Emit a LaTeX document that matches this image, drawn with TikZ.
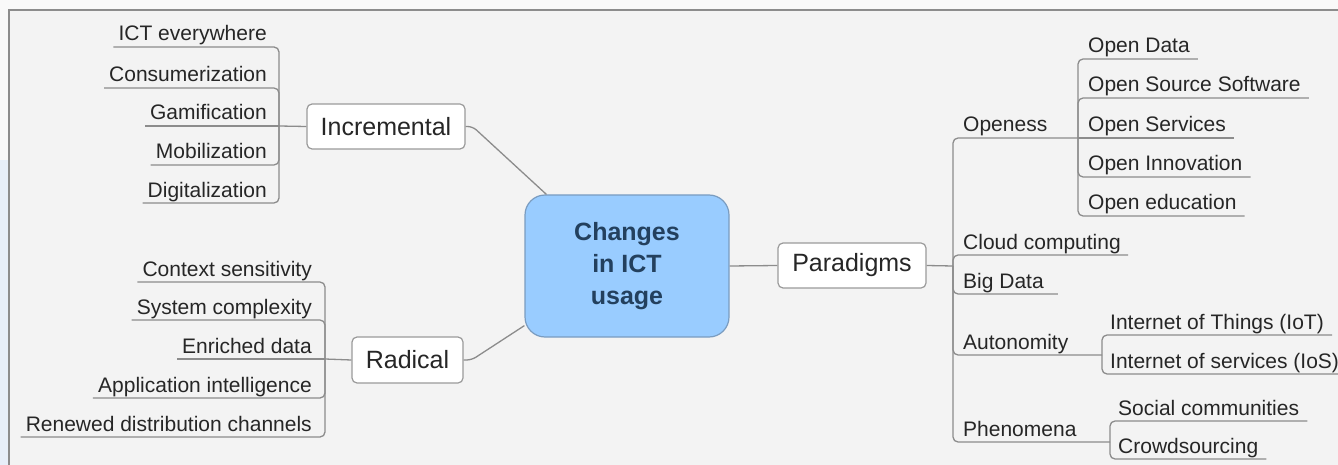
\documentclass[tikz,border=0pt]{standalone}
\usepackage{fontspec}
\setmainfont{Liberation Sans}
\usepackage{tikz}
\usetikzlibrary{positioning}
\definecolor{linegray}{HTML}{8C8C8C}
\definecolor{boxgray}{HTML}{9A9A9A}
\definecolor{centrefill}{HTML}{99CCFF}
\definecolor{centreline}{HTML}{7A9CC0}
\definecolor{centretext}{HTML}{23405E}
\definecolor{paper}{HTML}{F3F3F3}
\definecolor{outside}{HTML}{F9F9F9}
\definecolor{sidestrip}{HTML}{E7EEF8}
\tikzstyle{topicbox} = [draw=boxgray, fill=white, line width=1.2pt,
    rounded corners=5pt, inner sep=0pt, font=\fontsize{25}{30}\selectfont, text=black!85]
\tikzstyle{centrebox} = [draw=centreline, fill=centrefill, line width=1.2pt,
    rounded corners=20pt, minimum width=204pt, minimum height=142pt, align=center,
    font=\fontsize{25}{32}\selectfont\bfseries, text=centretext]
\tikzstyle{leafleft} = [anchor=base east, inner sep=0pt, font=\fontsize{21}{25}\selectfont, text=black!85]
\tikzstyle{leafright} = [leafleft, anchor=base west]
\tikzstyle{branch} = [draw=linegray, line width=1.3pt, rounded corners=5pt]

\begin{document}
\begin{tikzpicture}[x=1pt, y=-1pt]
    \useasboundingbox (0,0) rectangle (1338,465);
    % paper and frame
    \fill[outside] (0,0) rectangle (1338,465);
    \fill[paper] (9,10) rectangle (1338,465);
    \fill[sidestrip] (0,160) rectangle (8,465);
    \draw[line width=2pt, black!45] (9,465) -- (9,10) -- (1338,10);

    % main topics
    \node[centrebox] (centre) at (627,266) {Changes\\in ICT\\usage};
    \node[topicbox, minimum width=158pt, minimum height=45pt] (incremental) at (386,126.5) {Incremental};
    \node[topicbox, minimum width=111pt, minimum height=46pt] (radical) at (407.5,360) {Radical};
    \node[topicbox, minimum width=148pt, minimum height=45pt] (paradigms) at (852,265.5) {Paradigms};

    \coordinate (jInc) at (279,126);
    \coordinate (jRad) at (325,359);
    \coordinate (jPar) at (953,266);
    \coordinate (jOpen) at (1078,138);
    \coordinate (jAut) at (1102,355);
    \coordinate (jPhe) at (1110,442);

    % incremental leaves
    \node[leafleft] (ict) at (267,41) {ICT everywhere};
    \node[leafleft] (consum) at (267,82) {Consumerization};
    \node[leafleft] (gamif) at (267,120) {Gamification};
    \node[leafleft] (mobil) at (267,159) {Mobilization};
    \node[leafleft] (digit) at (267,197) {Digitalization};

    % radical leaves
    \node[leafleft] (context) at (312,276) {Context sensitivity};
    \node[leafleft] (system) at (312,314) {System complexity};
    \node[leafleft] (enriched) at (312,353) {Enriched data};
    \node[leafleft] (appint) at (312,392) {Application intelligence};
    \node[leafleft] (renewed) at (312,431) {Renewed distribution channels};

    % paradigms leaves
    \node[leafright] (openess) at (963,132) {Openess};
    \node[leafright] (cloud) at (963,249) {Cloud computing};
    \node[leafright] (bigdata) at (963,288) {Big Data};
    \node[leafright] (autonom) at (963,349) {Autonomity};
    \node[leafright] (phenom) at (963,436) {Phenomena};

    \node[leafright] (opendata) at (1088,53) {Open Data};
    \node[leafright] (opensource) at (1088,92) {Open Source Software};
    \node[leafright] (openserv) at (1088,132) {Open Services};
    \node[leafright] (openinno) at (1088,171) {Open Innovation};
    \node[leafright] (openedu) at (1088,210) {Open education};

    \node[leafright] (iot) at (1110,329) {Internet of Things (IoT)};
    \node[leafright] (ios) at (1110,368) {Internet of services (IoS)};

    \node[leafright] (social) at (1118,415) {Social communities};
    \node[leafright] (crowd) at (1118,453) {Crowdsourcing};

    % connectors to the centre
    \draw[branch] (incremental.east) -- ++(7,0) -- ([xshift=22pt]centre.north west);
    \draw[branch] (radical.east) -- ++(8,0) -- ([yshift=12pt]centre.south west);
    \draw[branch] (centre.east) -- (paradigms.west);
    \draw[branch] (paradigms.east) -- (jPar);
    \draw[branch] (incremental.west) -- (jInc);
    \draw[branch] (radical.west) -- (jRad);

    % incremental branches
    \draw[branch] (jInc) |- ([xshift=-5pt,yshift=-6pt]ict.base west);
    \draw[branch] (jInc) |- ([xshift=-5pt,yshift=-6pt]consum.base west);
    \draw[branch] (jInc) -- ([xshift=-5pt,yshift=-6pt]gamif.base west);
    \draw[branch] (jInc) |- ([xshift=-5pt,yshift=-6pt]mobil.base west);
    \draw[branch] (jInc) |- ([xshift=-5pt,yshift=-6pt]digit.base west);

    % radical branches
    \draw[branch] (jRad) |- ([xshift=-5pt,yshift=-6pt]context.base west);
    \draw[branch] (jRad) |- ([xshift=-5pt,yshift=-6pt]system.base west);
    \draw[branch] (jRad) -- ([xshift=-5pt,yshift=-6pt]enriched.base west);
    \draw[branch] (jRad) |- ([xshift=-5pt,yshift=-6pt]appint.base west);
    \draw[branch] (jRad) |- ([xshift=-5pt,yshift=-6pt]renewed.base west);

    % paradigms branches
    \draw[branch] (jPar) |- (jOpen);
    \draw[branch] (jPar) |- ([xshift=7pt,yshift=-6pt]cloud.base east);
    \draw[branch] (jPar) |- ([xshift=14pt,yshift=-6pt]bigdata.base east);
    \draw[branch] (jPar) |- (jAut);
    \draw[branch] (jPar) |- (jPhe);

    \draw[branch] (jOpen) |- ([xshift=8pt,yshift=-6pt]opendata.base east);
    \draw[branch] (jOpen) |- ([xshift=8pt,yshift=-6pt]opensource.base east);
    \draw[branch] (jOpen) -- ([xshift=8pt,yshift=-6pt]openserv.base east);
    \draw[branch] (jOpen) |- ([xshift=8pt,yshift=-6pt]openinno.base east);
    \draw[branch] (jOpen) |- ([xshift=8pt,yshift=-6pt]openedu.base east);

    \draw[branch] (jAut) |- ([xshift=8pt,yshift=-6pt]iot.base east);
    \draw[branch] (jAut) |- ([xshift=8pt,yshift=-6pt]ios.base east);

    \draw[branch] (jPhe) |- ([xshift=8pt,yshift=-6pt]social.base east);
    \draw[branch] (jPhe) |- ([xshift=8pt,yshift=-6pt]crowd.base east);
\end{tikzpicture}
\end{document}
